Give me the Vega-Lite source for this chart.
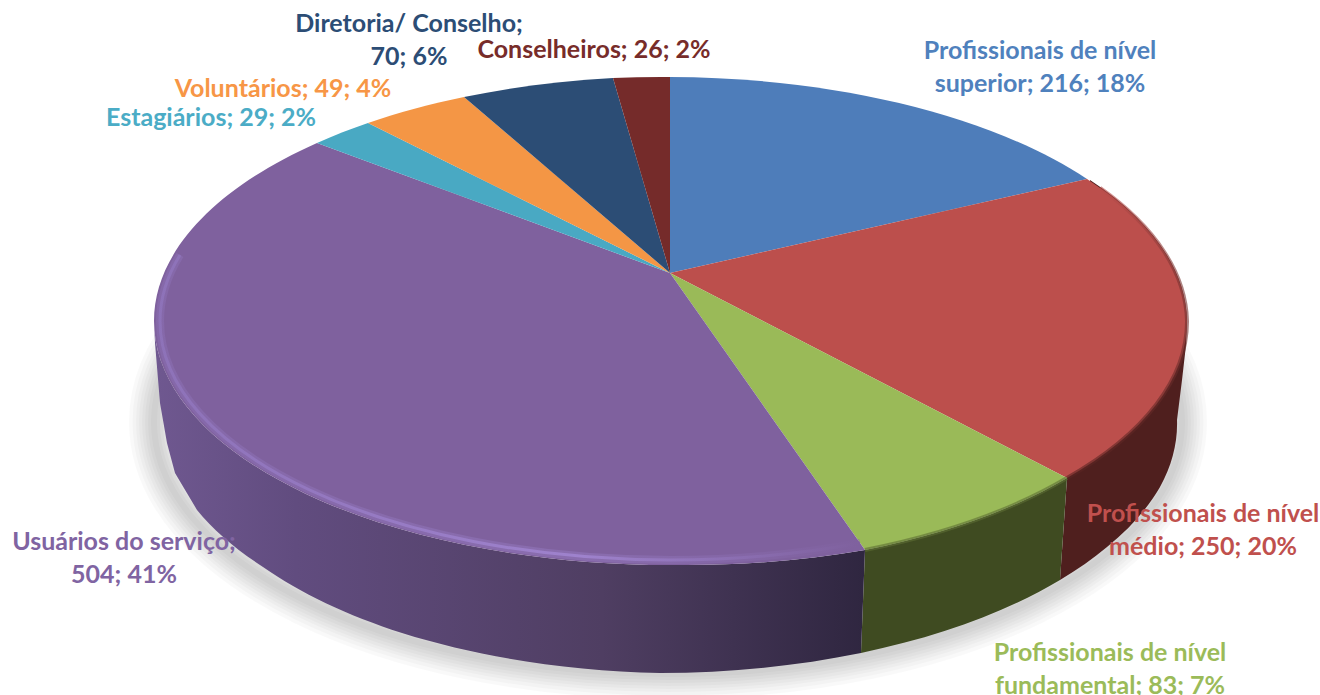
{
"$schema":"https://vega.github.io/schema/vega-lite/v6.json",
"width":1320,"height":695,"padding":0,"autosize":{"type":"none"},"background":"white",
"config":{"view":{"stroke":null}},
"data":{"values":[
{"name":"Profissionais de nível superior","value":216,"pct":18,"label":"Profissionais de nível\nsuperior; 216; 18%"},
{"name":"Profissionais de nível médio","value":250,"pct":20,"label":"Profissionais de nível\nmédio; 250; 20%"},
{"name":"Profissionais de nível fundamental","value":83,"pct":7,"label":"Profissionais de nível\nfundamental; 83; 7%"},
{"name":"Usuários do serviço","value":504,"pct":41,"label":"Usuários do serviço;\n504; 41%"},
{"name":"Estagiários","value":29,"pct":2,"label":"Estagiários; 29; 2%"},
{"name":"Voluntários","value":49,"pct":4,"label":"Voluntários; 49; 4%"},
{"name":"Diretoria/ Conselho","value":70,"pct":6,"label":"Diretoria/ Conselho;\n70; 6%"},
{"name":"Conselheiros","value":26,"pct":2,"label":"Conselheiros; 26; 2%"}
]},
"resolve":{"scale":{"x":"independent","y":"independent"}},
"layer":[
{
"encoding":{
"x":{"datum":0,"type":"quantitative","axis":null,"scale":{"domain":[0,1320],"range":[0,1320]}},
"y":{"datum":0,"type":"quantitative","axis":null,"scale":{"domain":[0,695],"range":[0,695]}}
},
"layer":[
{"transform":[{"filter":"datum.value==504"}],"mark":{"type":"point","filled":false,"opacity":1,"size":4,"fill":"transparent","stroke":"#000","strokeOpacity":0.022,"strokeWidth":50,"shape":"M154 422 A514 252 0 1 1 1182 422 A514 252 0 1 1 154 422 Z"}},
{"transform":[{"filter":"datum.value==504"}],"mark":{"type":"point","filled":false,"opacity":1,"size":4,"fill":"transparent","stroke":"#000","strokeOpacity":0.022,"strokeWidth":43,"shape":"M154 422 A514 252 0 1 1 1182 422 A514 252 0 1 1 154 422 Z"}},
{"transform":[{"filter":"datum.value==504"}],"mark":{"type":"point","filled":false,"opacity":1,"size":4,"fill":"transparent","stroke":"#000","strokeOpacity":0.022,"strokeWidth":36,"shape":"M154 422 A514 252 0 1 1 1182 422 A514 252 0 1 1 154 422 Z"}},
{"transform":[{"filter":"datum.value==504"}],"mark":{"type":"point","filled":false,"opacity":1,"size":4,"fill":"transparent","stroke":"#000","strokeOpacity":0.025,"strokeWidth":30,"shape":"M154 422 A514 252 0 1 1 1182 422 A514 252 0 1 1 154 422 Z"}},
{"transform":[{"filter":"datum.value==504"}],"mark":{"type":"point","filled":false,"opacity":1,"size":4,"fill":"transparent","stroke":"#000","strokeOpacity":0.025,"strokeWidth":24,"shape":"M154 422 A514 252 0 1 1 1182 422 A514 252 0 1 1 154 422 Z"}},
{"transform":[{"filter":"datum.value==504"}],"mark":{"type":"point","filled":false,"opacity":1,"size":4,"fill":"transparent","stroke":"#000","strokeOpacity":0.025,"strokeWidth":18,"shape":"M154 422 A514 252 0 1 1 1182 422 A514 252 0 1 1 154 422 Z"}},
{"transform":[{"filter":"datum.value==504"}],"mark":{"type":"point","filled":false,"opacity":1,"size":4,"fill":"transparent","stroke":"#000","strokeOpacity":0.025,"strokeWidth":12,"shape":"M154 422 A514 252 0 1 1 1182 422 A514 252 0 1 1 154 422 Z"}},
{"transform":[{"filter":"datum.value==504"}],"mark":{"type":"point","filled":false,"opacity":1,"size":4,"fill":"transparent","stroke":"#000","strokeOpacity":0.025,"strokeWidth":6,"shape":"M154 422 A514 252 0 1 1 1182 422 A514 252 0 1 1 154 422 Z"}},
{"transform":[{"filter":"datum.value==250"}],"mark":{"type":"point","filled":true,"opacity":1,"size":4,"fill":"#4f1f1e","shape":"M1090 180 A516 244 0 0 1 1187 321 L1186 345 L1182 380 L1177 420 A516 247 0 0 1 1160 487 A516 247 0 0 1 1107 547 A516 247 0 0 1 1060 580 L1067 478 Z"}},
{"transform":[{"filter":"datum.value==83"}],"mark":{"type":"point","filled":true,"opacity":1,"size":4,"fill":"#3f4b21","shape":"M1067 478 L1060 580 A516 247 0 0 1 861 653 L865 550 A516 244 0 0 0 1067 478 Z"}},
{"transform":[{"filter":"datum.value==504"}],"mark":{"type":"point","filled":true,"opacity":1,"size":4,"fill":{"gradient":"linear","x1":0,"y1":0,"x2":1,"y2":0,"stops":[{"offset":0,"color":"#6f5890"},{"offset":0.2,"color":"#614c7f"},{"offset":0.63,"color":"#4f3e62"},{"offset":1,"color":"#2f2640"}]},"shape":"M865 550 L861 653 A516 247 0 0 1 660 673 A516 247 0 0 1 402 633 A516 247 0 0 1 263 567 A516 247 0 0 1 197 510 L175 473 L167 443 L160 403 L155 343 L154 321 A516 244 0 0 0 671 565 A516 244 0 0 0 865 550 Z"}},
{"mark":{"type":"point","filled":true,"opacity":1,"size":4},
"encoding":{
"shape":{"field":"name","type":"nominal","legend":null,"scale":{"domain":["Profissionais de nível superior","Profissionais de nível médio","Profissionais de nível fundamental","Usuários do serviço","Estagiários","Voluntários","Diretoria/ Conselho","Conselheiros"],"range":[
"M670 273 L670 77 A516 244 0 0 1 1087 179 Z",
"M670 273 L1087 179 A516 244 0 0 1 1187 321 A516 244 0 0 1 1067 478 Z",
"M670 273 L1067 478 A516 244 0 0 1 865 550 Z",
"M670 273 L865 550 A516 244 0 0 1 671 565 A516 244 0 0 1 154 321 A516 244 0 0 1 317 143 Z",
"M670 273 L317 143 A516 244 0 0 1 368 123 Z",
"M670 273 L368 123 A516 244 0 0 1 464 97 Z",
"M670 273 L464 97 A516 244 0 0 1 613 78 Z",
"M670 273 L613 78 A516 244 0 0 1 670 77 Z"]}},
"fill":{"field":"name","type":"nominal","legend":null,"scale":{"domain":["Profissionais de nível superior","Profissionais de nível médio","Profissionais de nível fundamental","Usuários do serviço","Estagiários","Voluntários","Diretoria/ Conselho","Conselheiros"],"range":["#4e7dba","#bc4f4c","#9aba58","#7f619e","#49a9c3","#f49645","#2c4d75","#752b2a"]}}
}},
{"transform":[{"filter":"datum.value==250"}],"mark":{"type":"point","filled":false,"opacity":1,"size":4,"fill":"transparent","stroke":{"gradient":"linear","x1":0,"y1":0,"x2":0,"y2":1,"stops":[{"offset":0,"color":"#bc4f4c"},{"offset":0.3,"color":"#7a3331"},{"offset":1,"color":"#5a2422"}]},"strokeOpacity":0.6,"strokeWidth":4,"shape":"M1100 188 A516 244 0 0 1 1187 321 A516 244 0 0 1 1067 478"}},
{"transform":[{"filter":"datum.value==83"}],"mark":{"type":"point","filled":false,"opacity":1,"size":4,"fill":"transparent","stroke":"#5d6e33","strokeOpacity":0.6,"strokeWidth":4,"shape":"M1067 478 A516 244 0 0 1 865 550"}},
{"transform":[{"filter":"datum.value==504"}],"mark":{"type":"point","filled":false,"opacity":1,"size":4,"fill":"transparent","stroke":{"gradient":"linear","x1":0,"y1":0,"x2":1,"y2":0,"stops":[{"offset":0,"color":"#8f74bb"},{"offset":0.6,"color":"#9a7fc8"},{"offset":0.85,"color":"#8a6db0"},{"offset":1,"color":"#7f619e"}]},"strokeOpacity":0.4,"strokeWidth":8,"shape":"M180 255 A511 239 0 0 0 160 321 A511 239 0 0 0 671 560 A511 239 0 0 0 860 543"}},
{"transform":[{"filter":"datum.value==504"}],"mark":{"type":"point","filled":false,"opacity":1,"size":4,"fill":"transparent","stroke":{"gradient":"linear","x1":0,"y1":0,"x2":1,"y2":0,"stops":[{"offset":0,"color":"#8f74bb"},{"offset":0.6,"color":"#a286d2"},{"offset":0.85,"color":"#8a6db0"},{"offset":1,"color":"#7f619e"}]},"strokeOpacity":0.85,"strokeWidth":3,"shape":"M180 255 A511 239 0 0 0 160 321 A511 239 0 0 0 671 560 A511 239 0 0 0 860 543"}}
]
},
{"mark":{"type":"text","font":"Lato","fontWeight":"bold","fontSize":25,"lineBreak":"\n","lineHeight":33,"align":"center","baseline":"middle"},
"encoding":{
"x":{"field":"value","type":"quantitative","axis":null,"scale":{"zero":false,"nice":false,"domain":[26,29,49,70,83,216,250,504],"range":[594,211,283,409,1110,1040,1203,124]}},
"y":{"field":"value","type":"quantitative","axis":null,"scale":{"zero":false,"nice":false,"domain":[26,29,49,70,83,216,250,504],"range":[50,118,89,24,653,51,514,542]}},
"text":{"field":"label"},
"color":{"field":"name","type":"nominal","legend":null,"scale":{"domain":["Profissionais de nível superior","Profissionais de nível médio","Profissionais de nível fundamental","Usuários do serviço","Estagiários","Voluntários","Diretoria/ Conselho","Conselheiros"],"range":["#4f81bd","#c0504d","#9bbb59","#8064a2","#4bacc6","#f79646","#2c4d75","#772c2a"]}}
}}
]
}
